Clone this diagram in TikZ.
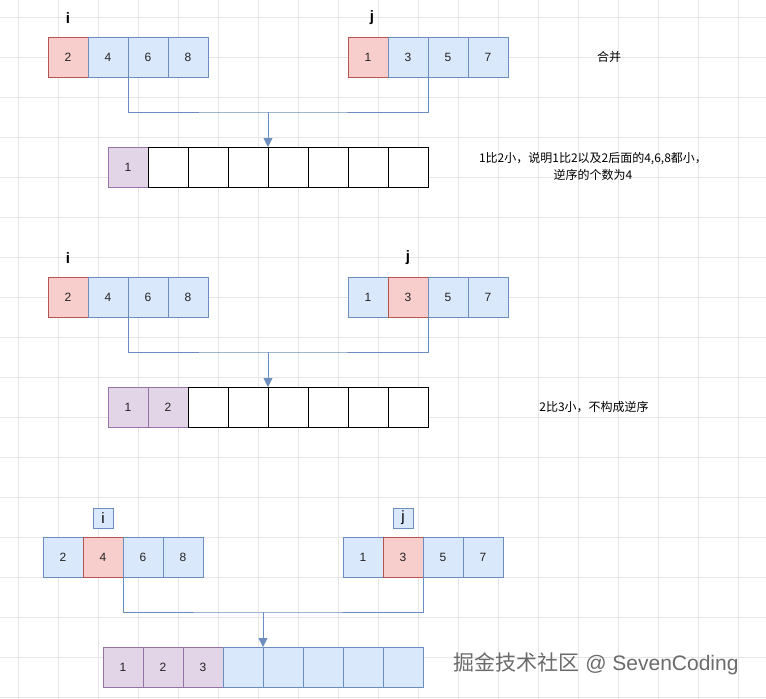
\documentclass[tikz,border=0pt]{standalone}
\usepackage{fontspec}
\setmainfont{Liberation Sans}
\newfontfamily\cjk{Noto Sans CJK SC}
\usetikzlibrary{arrows.meta}
\definecolor{redf}{HTML}{F8CECC}\definecolor{reds}{HTML}{B85450}
\definecolor{bluef}{HTML}{DAE8FC}\definecolor{blues}{HTML}{6C8EBF}
\definecolor{purf}{HTML}{E1D5E7}\definecolor{purs}{HTML}{9673A6}
\definecolor{gridc}{HTML}{E6E6E6}\definecolor{conn}{HTML}{6C8EBF}
\definecolor{txt}{HTML}{222222}
\tikzset{
  cellbase/.style={rectangle, anchor=north west, minimum width=40pt, minimum height=40pt, inner sep=0pt, outer sep=0pt, line width=0.9pt, font=\fontsize{12}{14}\selectfont, text=txt},
  redc/.style={cellbase, fill=redf, draw=reds},
  bluec/.style={cellbase, fill=bluef, draw=blues},
  purc/.style={cellbase, fill=purf, draw=purs},
  whitec/.style={cellbase, fill=white, draw=black, line width=1pt},
  ptr/.style={font=\bfseries\fontsize{15}{16}\selectfont, text=black},
  ptrbox/.style={rectangle, fill=bluef, draw=blues, line width=0.8pt, minimum width=20pt, minimum height=20pt, inner sep=0pt, font=\fontsize{15}{16}\selectfont},
  note/.style={font=\cjk\fontsize{12}{17}\selectfont, align=center, text=black},
  link/.style={draw=conn, line width=0.9pt},
  linkarrow/.style={link, -{Triangle[length=9pt,width=9pt]}}
}
\begin{document}
\begin{tikzpicture}[x=1pt,y=-1pt]
\useasboundingbox (0,0) rectangle (766,699);
\fill[white] (0,0) rectangle (766,699);
\foreach \gx in {18,58,...,766} \draw[gridc, line width=0.8pt] (\gx,0) -- (\gx,699);
\foreach \gy in {17,57,...,699} \draw[gridc, line width=0.8pt] (0,\gy) -- (766,\gy);

% ---------- Row 1 ----------
\node[ptr] (i1) at (68,18) {i};
\node[ptr] (j1) at (372,18) {j};
\foreach \v/\s [count=\k] in {2/redc,4/bluec,6/bluec,8/bluec}
  \node[\s] (La\k) at ({48+40*(\k-1)},37) {\v};
\foreach \v/\s [count=\k] in {1/redc,3/bluec,5/bluec,7/bluec}
  \node[\s] (Ra\k) at ({348+40*(\k-1)},37) {\v};
\foreach \v/\s [count=\k] in {1/purc,{}/whitec,{}/whitec,{}/whitec,{}/whitec,{}/whitec,{}/whitec,{}/whitec}
  \node[\s] (Ba\k) at ({108+40*(\k-1)},147) {\v};
\coordinate (ma) at (268,112);
\draw[link] (La2.south east) |- (ma) -| (Ra2.south east);
\draw[linkarrow] (ma) -- (Ba4.north east);
\node[note] (t0) at (609,57) {合并};
\node[note] (t1) at (593,166) {1比2小，说明1比2以及2后面的4,6,8都小，\\逆序的个数为4};

% ---------- Row 2 ----------
\node[ptr] (i2) at (68,258) {i};
\node[ptr] (j2) at (408,258) {j};
\foreach \v/\s [count=\k] in {2/redc,4/bluec,6/bluec,8/bluec}
  \node[\s] (Lb\k) at ({48+40*(\k-1)},277) {\v};
\foreach \v/\s [count=\k] in {1/bluec,3/redc,5/bluec,7/bluec}
  \node[\s] (Rb\k) at ({348+40*(\k-1)},277) {\v};
\foreach \v/\s [count=\k] in {1/purc,2/purc,{}/whitec,{}/whitec,{}/whitec,{}/whitec,{}/whitec,{}/whitec}
  \node[\s] (Bb\k) at ({108+40*(\k-1)},387) {\v};
\coordinate (mb) at (268,352);
\draw[link] (Lb2.south east) |- (mb) -| (Rb2.south east);
\draw[linkarrow] (mb) -- (Bb4.north east);
\node[note] (t2) at (594,407) {2比3小，不构成逆序};

% ---------- Row 3 ----------
\node[ptrbox] (i3) at (103,518) {i};
\node[ptrbox] (j3) at (403,518) {j};
\foreach \v/\s [count=\k] in {2/bluec,4/redc,6/bluec,8/bluec}
  \node[\s] (Lc\k) at ({43+40*(\k-1)},537) {\v};
\foreach \v/\s [count=\k] in {1/bluec,3/redc,5/bluec,7/bluec}
  \node[\s] (Rc\k) at ({343+40*(\k-1)},537) {\v};
\foreach \v/\s [count=\k] in {1/purc,2/purc,3/purc,{}/bluec,{}/bluec,{}/bluec,{}/bluec,{}/bluec}
  \node[\s] (Bc\k) at ({103+40*(\k-1)},647) {\v};
\coordinate (mc) at (263,612);
\draw[link] (Lc2.south east) |- (mc) -| (Rc2.south east);
\draw[linkarrow] (mc) -- (Bc4.north east);
\node[font=\fontsize{21}{23}\selectfont, text=black!58] (wm) at (596,664) {{\cjk 掘金技术社区} @ SevenCoding};
\end{tikzpicture}
\end{document}
